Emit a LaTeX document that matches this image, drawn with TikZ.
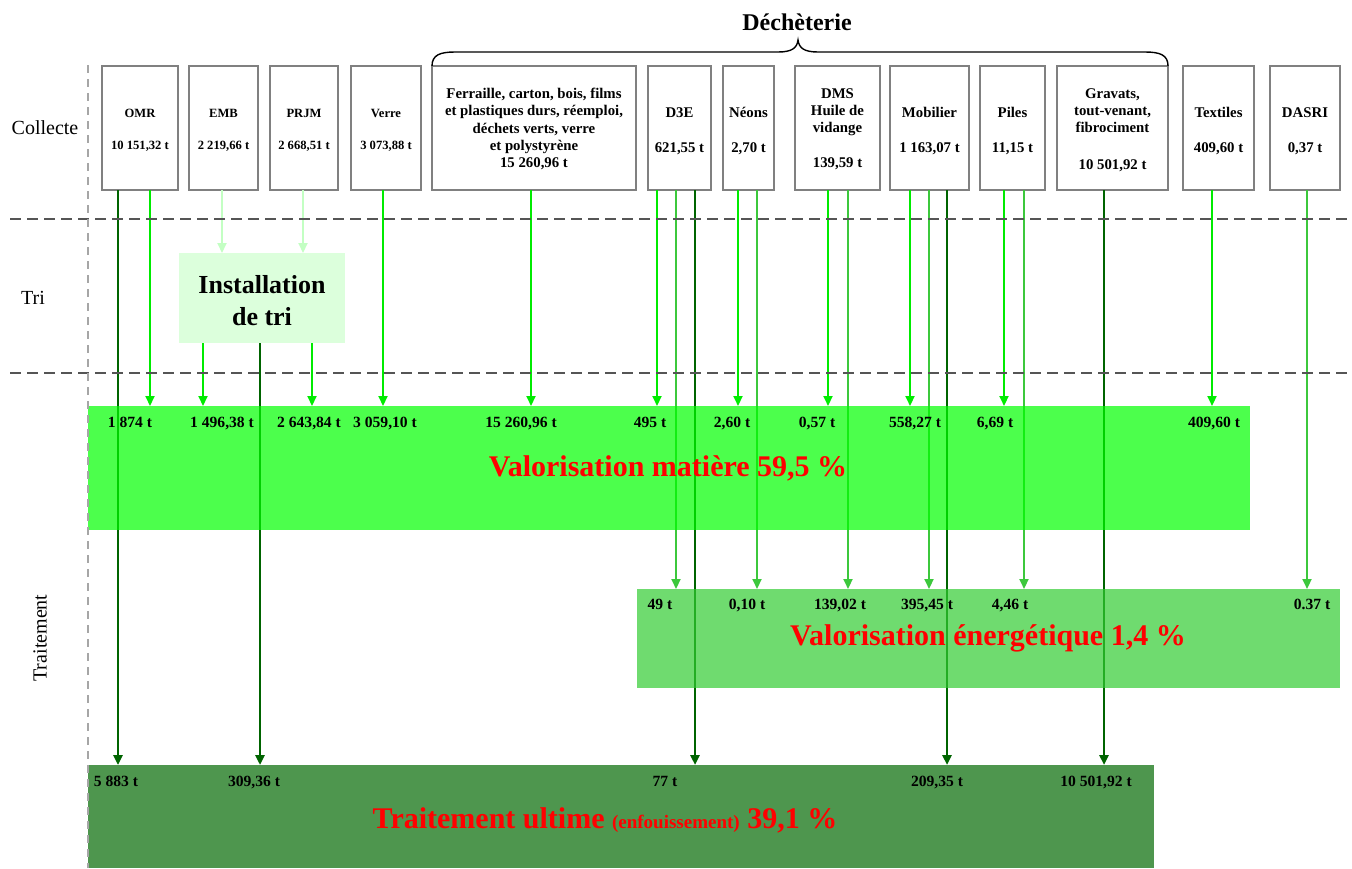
\documentclass[tikz,border=0pt]{standalone}
\usepackage{fontspec}
\setmainfont{Liberation Serif}
\usetikzlibrary{arrows.meta}
\definecolor{boxgray}{RGB}{128,128,128}
\definecolor{cBright}{RGB}{0,235,0}
\definecolor{cMed}{RGB}{60,200,60}
\definecolor{cDark}{RGB}{0,100,0}
\definecolor{cPale}{RGB}{195,255,195}
\definecolor{cMat}{RGB}{1,255,1}
\definecolor{cEner}{RGB}{51,204,51}
\definecolor{cUlt}{RGB}{78,150,78}
\definecolor{cTri}{RGB}{220,255,220}
\definecolor{cRed}{RGB}{255,0,0}
\definecolor{dashgray}{RGB}{85,85,85}
\begin{document}
\begin{tikzpicture}[x=0.5pt,y=-0.5pt,
  every node/.style={inner sep=0pt, outer sep=0pt},
  bx/.style 2 args={minimum width=#1*0.5pt, minimum height=#2*0.5pt},
  cbox/.style={draw=boxgray, line width=1pt, fill=white},
  band/.style={fill opacity=0.7, draw=none},
  slab/.style={anchor=base, font=\bfseries\fontsize{6.3}{7.5}\selectfont},
  dlab/.style={anchor=base, font=\bfseries\fontsize{7.4}{8.6}\selectfont},
  mlab/.style={font=\bfseries\fontsize{7.4}{8.6}\selectfont, align=center},
  val/.style={anchor=base, font=\bfseries\fontsize{7.8}{9}\selectfont},
  side/.style={font=\fontsize{10}{12}\selectfont},
  title/.style={font=\bfseries\fontsize{15}{18}\selectfont, text=cRed},
  tip/.style={-{Triangle[width=4.5pt,length=5pt]}},
  arrB/.style={tip, draw=cBright, line width=1pt},
  arrM/.style={tip, draw=cMed, line width=1pt},
  arrD/.style={tip, draw=cDark, line width=1.25pt},
  arrP/.style={tip, draw=cPale, line width=1pt},
  hdash/.style={draw=dashgray, line width=1pt, dash pattern=on 5.5pt off 3pt},
  vdash/.style={draw=gray!70, line width=0.6pt, dash pattern=on 4pt off 3pt}
]
\fill[white] (0,0) rectangle (1352,868);
\useasboundingbox (0,0) rectangle (1352,868);

% ---------- collection boxes ----------
\node[cbox, bx={76}{124}]  (omr)   at (140,128)   {};
\node[cbox, bx={69}{124}]  (emb)   at (223.5,128) {};
\node[cbox, bx={68}{124}]  (prjm)  at (304,128)   {};
\node[cbox, bx={70}{124}]  (verre) at (386,128)   {};
\node[cbox, bx={204}{124}] (ferr)  at (534,128)   {};
\node[cbox, bx={63}{124}]  (d3e)   at (679.5,128) {};
\node[cbox, bx={51}{124}]  (neons) at (748.5,128) {};
\node[cbox, bx={85}{124}]  (dms)   at (837.5,128) {};
\node[cbox, bx={79}{124}]  (mob)   at (929.5,128) {};
\node[cbox, bx={65}{124}]  (piles) at (1012.5,128) {};
\node[cbox, bx={111}{124}] (grav)  at (1112.5,128) {};
\node[cbox, bx={71}{124}]  (textl) at (1218.5,128) {};
\node[cbox, bx={70}{124}]  (dasri) at (1305,128)  {};

\node[slab] at (140,117.5) {OMR};
\node[slab] at (140,149.5) {10 151,32 t};
\node[slab] at (223.5,117.5) {EMB};
\node[slab] at (223.5,149.5) {2 219,66 t};
\node[slab] at (304,117.5) {PRJM};
\node[slab] at (304,149.5) {2 668,51 t};
\node[slab] at (386,117.5) {Verre};
\node[slab] at (386,149.5) {3 073,88 t};
\node[mlab] at (534,129) {Ferraille, carton, bois, films\\et plastiques durs, réemploi,\\déchets verts, verre\\et polystyrène\\15 260,96 t};
\node[dlab] at (679.5,117) {D3E};
\node[dlab] at (679.5,152) {621,55 t};
\node[dlab] at (748.5,117) {Néons};
\node[dlab] at (748.5,152) {2,70 t};
\node[mlab] at (837.5,129) {DMS\\Huile de\\vidange\\[8.6pt]139,59 t};
\node[dlab] at (929.5,117) {Mobilier};
\node[dlab] at (929.5,152) {1 163,07 t};
\node[dlab] at (1012.5,117) {Piles};
\node[dlab] at (1012.5,152) {11,15 t};
\node[mlab] at (1112.5,130) {Gravats,\\tout-venant,\\fibrociment\\[9.5pt]10 501,92 t};
\node[dlab] at (1218.5,117) {Textiles};
\node[dlab] at (1218.5,152) {409,60 t};
\node[dlab] at (1305,117) {DASRI};
\node[dlab] at (1305,152) {0,37 t};

% ---------- brace and title ----------
\node[font=\bfseries\fontsize{12}{14}\selectfont] (dech) at (797,22) {Déchèterie};
\draw[line width=0.7pt] (ferr.north west) .. controls +(0,-11) and +(-15,0) .. (455,52)
   -- (778,52) .. controls (792,52) and (797,48) .. (798,40)
   .. controls (799,48) and (804,52) .. (818,52)
   -- (1145,52) .. controls +(15,0) and +(0,-11) .. (grav.north east);

% ---------- sorting installation ----------
\node[fill=cTri, bx={166}{90}] (tri) at (262,298) {};
\node[font=\bfseries\fontsize{13}{16}\selectfont, align=center] at (262,301) {Installation\\de tri};

% ---------- band anchors (invisible, for arrows) ----------
\path (669,468) node[bx={1162}{124}] (mat) {};
\path (988.5,638.5) node[bx={703}{99}] (ener) {};
\path (621,816.5) node[bx={1066}{103}] (ult) {};

% ---------- arrows ----------
\draw[arrP] (emb.south -| 222,0)  -- (tri.north -| 222,0);
\draw[arrP] (prjm.south -| 303,0) -- (tri.north -| 303,0);

\draw[arrD] (omr.south -| 118,0)  -- (ult.north -| 118,0);
\draw[arrB] (omr.south -| 150,0)  -- (mat.north -| 150,0);
\draw[arrB] (tri.south -| 203,0)  -- (mat.north -| 203,0);
\draw[arrD] (tri.south -| 260,0)  -- (ult.north -| 260,0);
\draw[arrB] (tri.south -| 312,0)  -- (mat.north -| 312,0);
\draw[arrB] (verre.south -| 383,0) -- (mat.north -| 383,0);
\draw[arrB] (ferr.south -| 531,0) -- (mat.north -| 531,0);
\draw[arrB] (d3e.south -| 657,0)  -- (mat.north -| 657,0);
\draw[arrM] (d3e.south -| 676,0)  -- (ener.north -| 676,0);
\draw[arrD] (d3e.south -| 695,0)  -- (ult.north -| 695,0);
\draw[arrB] (neons.south -| 738,0) -- (mat.north -| 738,0);
\draw[arrM] (neons.south -| 757,0) -- (ener.north -| 757,0);
\draw[arrB] (dms.south -| 828,0)  -- (mat.north -| 828,0);
\draw[arrM] (dms.south -| 848,0)  -- (ener.north -| 848,0);
\draw[arrB] (mob.south -| 910,0)  -- (mat.north -| 910,0);
\draw[arrM] (mob.south -| 929,0)  -- (ener.north -| 929,0);
\draw[arrD] (mob.south -| 947,0)  -- (ult.north -| 947,0);
\draw[arrB] (piles.south -| 1004,0) -- (mat.north -| 1004,0);
\draw[arrM] (piles.south -| 1024,0) -- (ener.north -| 1024,0);
\draw[arrD] (grav.south -| 1104,0) -- (ult.north -| 1104,0);
\draw[arrB] (textl.south -| 1212,0) -- (mat.north -| 1212,0);
\draw[arrM] (dasri.south -| 1307,0) -- (ener.north -| 1307,0);

% ---------- bands ----------
\fill[cMat, band] (mat.north west) rectangle (mat.south east);
\fill[cEner, band] (ener.north west) rectangle (ener.south east);
\fill[cUlt] (ult.north west) rectangle (ult.south east);

% ---------- dashed separators ----------
\draw[hdash] (10,219) -- (1352,219);
\draw[hdash] (10,373) -- (1352,373);
\draw[vdash] (88,65) -- (88,868);

% ---------- side labels ----------
\node[side] at (45,128) {Collecte};
\node[side] at (33,298) {Tri};
\node[side, rotate=90] at (40,638) {Traitement};

% ---------- values ----------
\node[val] at (130,427.5) {1 874 t};
\node[val] at (222,427.5) {1 496,38 t};
\node[val] at (309,427.5) {2 643,84 t};
\node[val] at (385,427.5) {3 059,10 t};
\node[val] at (521,427.5) {15 260,96 t};
\node[val] at (650,427.5) {495 t};
\node[val] at (732,427.5) {2,60 t};
\node[val] at (817,427.5) {0,57 t};
\node[val] at (915,427.5) {558,27 t};
\node[val] at (995,427.5) {6,69 t};
\node[val] at (1214,427.5) {409,60 t};

\node[val] at (660,609.5) {49 t};
\node[val] at (747,609.5) {0,10 t};
\node[val] at (840,609.5) {139,02 t};
\node[val] at (927,609.5) {395,45 t};
\node[val] at (1010,609.5) {4,46 t};
\node[val] at (1312,609.5) {0.37 t};

\node[val] at (116,786.5) {5 883 t};
\node[val] at (254,786.5) {309,36 t};
\node[val] at (665,786.5) {77 t};
\node[val] at (937,786.5) {209,35 t};
\node[val] at (1096,786.5) {10 501,92 t};

% ---------- titles ----------
\node[title] at (668,468) {Valorisation matière 59,5 \%};
\node[title] at (988,638) {Valorisation énergétique 1,4 \%};
\node[title] at (605,820) {Traitement ultime {\fontsize{9.5}{11}\selectfont (enfouissement)} 39,1 \%};
\end{tikzpicture}
\end{document}
